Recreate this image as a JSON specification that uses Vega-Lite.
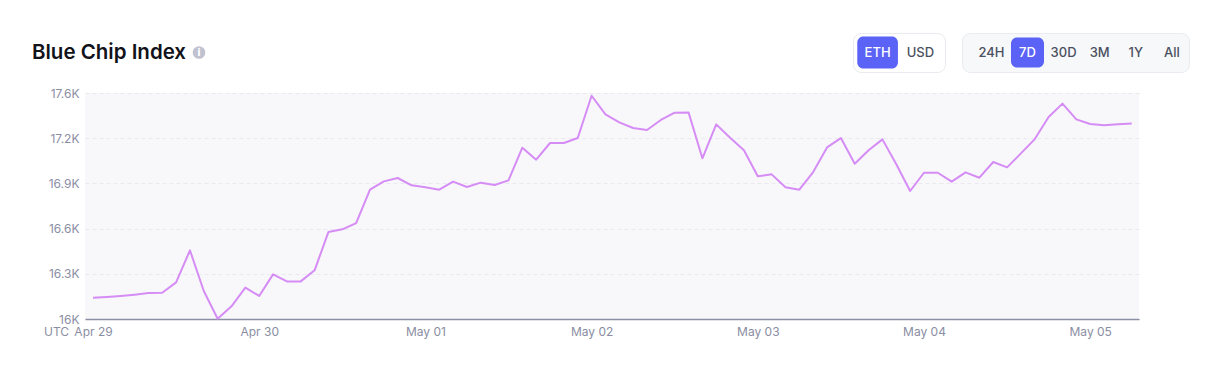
{
  "$schema": "https://vega.github.io/schema/vega-lite/v6.json",
  "background": "#ffffff",
  "padding": {"left": 31, "top": 32, "right": 20, "bottom": 8},
  "config": {"view": {"stroke": null}, "font": "Inter"},
  "bounds": "flush",
  "spacing": 60,
  "vconcat": [
    {
      "bounds": "flush",
      "spacing": 17,
      "hconcat": [
        {
          "width": 48,
          "height": 39,
          "data": {"values": [{"label": "Blue Chip Index"}]},
          "mark": {"type": "text", "font": "Inter", "fontSize": 20.5, "fontWeight": 600, "color": "#11121a"},
          "encoding": {"text": {"field": "label"}}
        },
        {
          "width": 98,
          "height": 39,
          "data": {"values": [{"label": "i"}]},
          "layer": [
            {"mark": {"type": "circle", "size": 160, "color": "#c0c2cf", "opacity": 1}, "encoding": {}},
            {"mark": {"type": "text", "font": "DejaVu Sans", "fontSize": 10, "fontWeight": "bold", "color": "#ffffff"},
             "encoding": {"text": {"field": "label"}}}
          ]
        },
        {
          "width": 571,
          "height": 39,
          "data": {"values": [{"label": ""}]},
          "mark": {"type": "text"},
          "encoding": {"text": {"field": "label"}}
        },
        {
          "width": 92,
          "height": 39,
          "view": {"fill": "#ffffff", "stroke": "#e8ebef", "cornerRadius": 8},
          "data": {"values": [{"unit": "ETH", "active": true}, {"unit": "USD", "active": false}]},
          "encoding": {
            "x": {"field": "unit", "type": "nominal", "axis": null,
                  "scale": {"domain": ["ETH", "USD"], "paddingInner": 0.05, "paddingOuter": 0.1}},
            "y": {"datum": "b", "type": "nominal", "scale": {"paddingInner": 0, "paddingOuter": 0.11}, "axis": null}
          },
          "layer": [
            {"transform": [{"filter": "datum.active"}], "mark": {"type": "bar", "cornerRadius": 6, "color": "#5a63f6"}},
            {"mark": {"type": "text", "font": "Inter", "fontSize": 13, "fontWeight": 500},
             "encoding": {"text": {"field": "unit"}, "color": {"condition": {"test": "datum.active", "value": "#ffffff"}, "value": "#4b5060"}}}
          ]
        },
        {
          "width": 227,
          "height": 39,
          "view": {"fill": "#f6f8fa", "stroke": "#e8ebef", "cornerRadius": 8},
          "data": {"values": [
            {"range": "24H", "active": false},
            {"range": "7D", "active": true},
            {"range": "30D", "active": false},
            {"range": "3M", "active": false},
            {"range": "1Y", "active": false},
            {"range": "All", "active": false}
          ]},
          "encoding": {
            "x": {"field": "range", "type": "nominal", "axis": null,
                  "scale": {"domain": ["24H", "7D", "30D", "3M", "1Y", "All"], "paddingInner": 0.086, "paddingOuter": 0.187, "align": 0.955}},
            "y": {"datum": "b", "type": "nominal", "scale": {"paddingInner": 0, "paddingOuter": 0.15}, "axis": null}
          },
          "layer": [
            {"transform": [{"filter": "datum.active"}], "mark": {"type": "bar", "cornerRadius": 6, "color": "#5a63f6"}},
            {"mark": {"type": "text", "font": "Inter", "fontSize": 13, "fontWeight": 500},
             "encoding": {"text": {"field": "range"}, "color": {"condition": {"test": "datum.active", "value": "#ffffff"}, "value": "#4b5060"}}}
          ]
        }
      ]
    },
    {
      "width": 1054,
      "height": 226,
      "view": {"fill": "#f8f8fb", "stroke": null},
      "data": {"values": [
        {"time": "2024-04-29T00:00:00Z", "value": 16146},
        {"time": "2024-04-29T02:00:00Z", "value": 16151},
        {"time": "2024-04-29T04:00:00Z", "value": 16158},
        {"time": "2024-04-29T06:00:00Z", "value": 16167},
        {"time": "2024-04-29T08:00:00Z", "value": 16178},
        {"time": "2024-04-29T10:00:00Z", "value": 16180},
        {"time": "2024-04-29T12:00:00Z", "value": 16251},
        {"time": "2024-04-29T14:00:00Z", "value": 16471},
        {"time": "2024-04-29T16:00:00Z", "value": 16192},
        {"time": "2024-04-29T18:00:00Z", "value": 16002},
        {"time": "2024-04-29T20:00:00Z", "value": 16087},
        {"time": "2024-04-29T22:00:00Z", "value": 16215},
        {"time": "2024-04-30T00:00:00Z", "value": 16158},
        {"time": "2024-04-30T02:00:00Z", "value": 16306},
        {"time": "2024-04-30T04:00:00Z", "value": 16258},
        {"time": "2024-04-30T06:00:00Z", "value": 16258},
        {"time": "2024-04-30T08:00:00Z", "value": 16334},
        {"time": "2024-04-30T10:00:00Z", "value": 16597},
        {"time": "2024-04-30T12:00:00Z", "value": 16615},
        {"time": "2024-04-30T14:00:00Z", "value": 16658},
        {"time": "2024-04-30T16:00:00Z", "value": 16887},
        {"time": "2024-04-30T18:00:00Z", "value": 16944},
        {"time": "2024-04-30T20:00:00Z", "value": 16967},
        {"time": "2024-04-30T22:00:00Z", "value": 16917},
        {"time": "2024-05-01T00:00:00Z", "value": 16903},
        {"time": "2024-05-01T02:00:00Z", "value": 16887},
        {"time": "2024-05-01T04:00:00Z", "value": 16942},
        {"time": "2024-05-01T06:00:00Z", "value": 16905},
        {"time": "2024-05-01T08:00:00Z", "value": 16935},
        {"time": "2024-05-01T10:00:00Z", "value": 16919},
        {"time": "2024-05-01T12:00:00Z", "value": 16951},
        {"time": "2024-05-01T14:00:00Z", "value": 17175},
        {"time": "2024-05-01T16:00:00Z", "value": 17093},
        {"time": "2024-05-01T18:00:00Z", "value": 17207},
        {"time": "2024-05-01T20:00:00Z", "value": 17207},
        {"time": "2024-05-01T22:00:00Z", "value": 17241},
        {"time": "2024-05-02T00:00:00Z", "value": 17531},
        {"time": "2024-05-02T02:00:00Z", "value": 17404},
        {"time": "2024-05-02T04:00:00Z", "value": 17349},
        {"time": "2024-05-02T06:00:00Z", "value": 17310},
        {"time": "2024-05-02T08:00:00Z", "value": 17296},
        {"time": "2024-05-02T10:00:00Z", "value": 17365},
        {"time": "2024-05-02T12:00:00Z", "value": 17415},
        {"time": "2024-05-02T14:00:00Z", "value": 17417},
        {"time": "2024-05-02T16:00:00Z", "value": 17102},
        {"time": "2024-05-02T18:00:00Z", "value": 17335},
        {"time": "2024-05-02T20:00:00Z", "value": 17243},
        {"time": "2024-05-02T22:00:00Z", "value": 17157},
        {"time": "2024-05-03T00:00:00Z", "value": 16979},
        {"time": "2024-05-03T02:00:00Z", "value": 16992},
        {"time": "2024-05-03T04:00:00Z", "value": 16903},
        {"time": "2024-05-03T06:00:00Z", "value": 16887},
        {"time": "2024-05-03T08:00:00Z", "value": 17008},
        {"time": "2024-05-03T10:00:00Z", "value": 17177},
        {"time": "2024-05-03T12:00:00Z", "value": 17241},
        {"time": "2024-05-03T14:00:00Z", "value": 17065},
        {"time": "2024-05-03T16:00:00Z", "value": 17157},
        {"time": "2024-05-03T18:00:00Z", "value": 17232},
        {"time": "2024-05-03T20:00:00Z", "value": 17061},
        {"time": "2024-05-03T22:00:00Z", "value": 16878},
        {"time": "2024-05-04T00:00:00Z", "value": 17003},
        {"time": "2024-05-04T02:00:00Z", "value": 17003},
        {"time": "2024-05-04T04:00:00Z", "value": 16942},
        {"time": "2024-05-04T06:00:00Z", "value": 17006},
        {"time": "2024-05-04T08:00:00Z", "value": 16969},
        {"time": "2024-05-04T10:00:00Z", "value": 17077},
        {"time": "2024-05-04T12:00:00Z", "value": 17040},
        {"time": "2024-05-04T14:00:00Z", "value": 17136},
        {"time": "2024-05-04T16:00:00Z", "value": 17234},
        {"time": "2024-05-04T18:00:00Z", "value": 17385},
        {"time": "2024-05-04T20:00:00Z", "value": 17477},
        {"time": "2024-05-04T22:00:00Z", "value": 17369},
        {"time": "2024-05-05T00:00:00Z", "value": 17337},
        {"time": "2024-05-05T02:00:00Z", "value": 17328},
        {"time": "2024-05-05T04:00:00Z", "value": 17335},
        {"time": "2024-05-05T06:00:00Z", "value": 17340}
      ]},
      "mark": {"type": "line", "color": "#d68cf5", "strokeWidth": 2, "strokeJoin": "round"},
      "encoding": {
        "x": {
          "field": "time",
          "type": "temporal",
          "scale": {
            "type": "utc",
            "domain": [
              {"year": 2024, "month": 4, "date": 28, "hours": 22, "minutes": 50, "seconds": 42, "utc": true},
              {"year": 2024, "month": 5, "date": 5, "hours": 7, "minutes": 3, "utc": true}
            ]
          },
          "axis": {
            "values": [
              {"year": 2024, "month": 4, "date": 29, "utc": true},
              {"year": 2024, "month": 4, "date": 30, "utc": true},
              {"year": 2024, "month": 5, "date": 1, "utc": true},
              {"year": 2024, "month": 5, "date": 2, "utc": true},
              {"year": 2024, "month": 5, "date": 3, "utc": true},
              {"year": 2024, "month": 5, "date": 4, "utc": true},
              {"year": 2024, "month": 5, "date": 5, "utc": true}
            ],
            "format": "%b %d",
            "labelFont": "Inter",
            "labelFontSize": 12,
            "labelColor": "#8a8ea3",
            "labelPadding": 7,
            "labelFlush": false,
            "labelOverlap": false,
            "ticks": false,
            "tickSize": 0,
            "grid": false,
            "domainColor": "#8b8fa6",
            "domainWidth": 1.5,
            "title": "UTC",
            "titleFont": "Inter",
            "titleFontSize": 12,
            "titleFontWeight": "normal",
            "titleColor": "#8a8ea3",
            "titleX": -29,
            "titleY": 7,
            "titleAlign": "center",
            "titleBaseline": "top"
          }
        },
        "y": {
          "field": "value",
          "type": "quantitative",
          "scale": {"domain": [16000, 17550], "zero": false, "nice": false},
          "axis": {
            "values": [16000, 16310, 16620, 16930, 17240, 17550],
            "labelExpr": "format(datum.value / 1000, '.1~f') + 'K'",
            "labelFont": "Inter",
            "labelFontSize": 12,
            "labelColor": "#8a8ea3",
            "labelPadding": 6,
            "domain": false,
            "ticks": false,
            "tickSize": 0,
            "grid": true,
            "gridColor": "#e9e9ef",
            "gridDash": [4, 3],
            "gridWidth": 1,
            "title": null
          }
        }
      }
    }
  ]
}
